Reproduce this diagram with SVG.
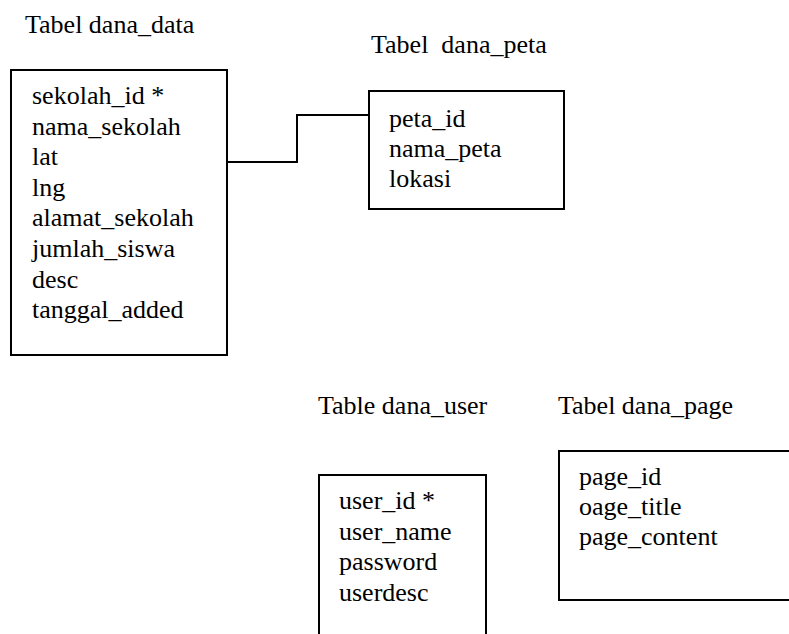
<svg xmlns="http://www.w3.org/2000/svg" width="789" height="634" viewBox="0 0 789 634">
<style>
.t{font-family:'Liberation Serif','Times New Roman',serif;font-size:26px;fill:#000}
.box{fill:none;stroke:#000;stroke-width:2}
.conn{fill:none;stroke:#000;stroke-width:2}
</style>
<rect width="789" height="634" fill="#fff"/>
<g id="dana_data" class="t">
<text x="25" y="33">Tabel dana_data</text>
<rect class="box" x="11" y="70" width="216" height="285"/>
<text x="32" y="104">sekolah_id *</text>
<text x="32" y="135">nama_sekolah</text>
<text x="32" y="165">lat</text>
<text x="32" y="196">lng</text>
<text x="32" y="226">alamat_sekolah</text>
<text x="32" y="257">jumlah_siswa</text>
<text x="32" y="288">desc</text>
<text x="32" y="318">tanggal_added</text>
</g>
<g id="dana_peta" class="t">
<text x="371" y="53" xml:space="preserve">Tabel  dana_peta</text>
<rect class="box" x="369" y="91" width="195" height="118"/>
<text x="389" y="127">peta_id</text>
<text x="389" y="157">nama_peta</text>
<text x="389" y="187">lokasi</text>
</g>
<g id="dana_user" class="t">
<text x="318" y="414">Table dana_user</text>
<path class="box" d="M319 634 V475 H486 V634"/>
<text x="339" y="509">user_id *</text>
<text x="339" y="540">user_name</text>
<text x="339" y="570">password</text>
<text x="339" y="601">userdesc</text>
</g>
<g id="dana_page" class="t">
<text x="558" y="414">Tabel dana_page</text>
<path class="box" d="M789 451 H559 V600 H789"/>
<text x="579" y="485">page_id</text>
<text x="579" y="515">oage_title</text>
<text x="579" y="545">page_content</text>
</g>
<g id="connectors">
<path class="conn" d="M227 162 H297 V115 H369"/>
</g>
</svg>
